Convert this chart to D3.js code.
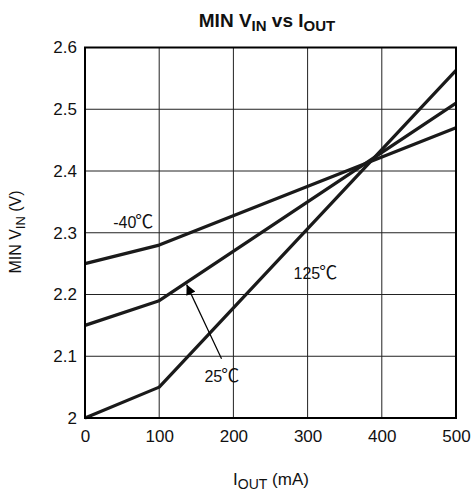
<!DOCTYPE html>
<html>
<head>
<meta charset="utf-8">
<script src="https://cdn.jsdelivr.net/npm/d3@7"></script>
<style>
  body { margin: 0; background: #fff; }
  text { font-family: Arial, "Liberation Sans", sans-serif; fill: #111; }
</style>
</head>
<body>
<script>
// currents (mA) and min input voltage (V) per temperature
var iout = [0, 100, 500];
var vinM40 = [2.25, 2.28, 2.47];
var vin25 = [2.15, 2.19, 2.51];
var vin125 = [2.0, 2.05, 2.563];
var xTicks = [0, 100, 200, 300, 400, 500];
var yTicks = [2, 2.1, 2.2, 2.3, 2.4, 2.5, 2.6];
var yTickLabels = ["2", "2.1", "2.2", "2.3", "2.4", "2.5", "2.6"];

const w = 473;
const h = 493;

const xScale = d3.scaleLinear().domain([0, 500]).range([85, 456]);
const yScale = d3.scaleLinear().domain([2, 2.6]).range([418, 47.5]);

const svg = d3.select("body")
    .append("svg")
    .attr("width", w)
    .attr("height", h);

// grid
svg.append("g")
    .selectAll("line")
    .data(xTicks)
    .enter()
    .append("line")
    .attr("x1", d => xScale(d))
    .attr("x2", d => xScale(d))
    .attr("y1", yScale(2))
    .attr("y2", yScale(2.6))
    .attr("stroke", "#222")
    .attr("stroke-width", 1);

svg.append("g")
    .selectAll("line")
    .data(yTicks)
    .enter()
    .append("line")
    .attr("x1", xScale(0))
    .attr("x2", xScale(500))
    .attr("y1", d => yScale(d))
    .attr("y2", d => yScale(d))
    .attr("stroke", "#222")
    .attr("stroke-width", 1);

// axes (labels only)
const xAxis = d3.axisBottom(xScale).tickValues(xTicks).tickSize(0).tickPadding(12);
const yAxis = d3.axisLeft(yScale).tickValues(yTicks).tickSize(0).tickPadding(8)
    .tickFormat((d, i) => yTickLabels[i]);

svg.append("g")
    .attr("transform", "translate(0," + yScale(2) + ")")
    .call(xAxis)
    .call(g => g.select(".domain").remove())
    .selectAll("text")
    .style("font-size", "17px")
    .style("font-family", "Arial, 'Liberation Sans', sans-serif")
    .attr("fill", "#111");

svg.append("g")
    .attr("transform", "translate(" + xScale(0) + ",0)")
    .call(yAxis)
    .call(g => g.select(".domain").remove())
    .selectAll("text")
    .style("font-size", "17px")
    .style("font-family", "Arial, 'Liberation Sans', sans-serif")
    .attr("fill", "#111");

// data lines
const line = d3.line()
    .x((d, i) => xScale(iout[i]))
    .y(d => yScale(d));

[vinM40, vin25, vin125].forEach(function (s) {
    svg.append("path")
        .datum(s)
        .attr("d", line)
        .attr("fill", "none")
        .attr("stroke", "#1a1a1a")
        .attr("stroke-width", 3.2)
        .attr("stroke-linejoin", "round");
});

// frame
svg.append("rect")
    .attr("x", xScale(0))
    .attr("y", yScale(2.6))
    .attr("width", xScale(500) - xScale(0))
    .attr("height", yScale(2) - yScale(2.6))
    .attr("fill", "none")
    .attr("stroke", "#000")
    .attr("stroke-width", 2);

// annotations, degree sign drawn with a CJK font like the original
function tempLabel(x, y, num) {
    const t = svg.append("text")
        .attr("x", x)
        .attr("y", y)
        .style("font-size", "16px");
    t.append("tspan").text(num);
    t.append("tspan")
        .style("font-family", "'Noto Sans CJK JP', 'Noto Sans CJK SC', sans-serif")
        .style("font-size", "18px")
        .attr("dx", -1)
        .text("℃");
}
tempLabel(xScale(38), yScale(2.308), "-40");
tempLabel(xScale(281), yScale(2.225), "125");
tempLabel(xScale(161), yScale(2.058), "25");

// arrow pointing at the 25℃ curve
svg.append("defs").append("marker")
    .attr("id", "arr")
    .attr("viewBox", "0 0 10 10")
    .attr("refX", 10)
    .attr("refY", 5)
    .attr("markerWidth", 11)
    .attr("markerHeight", 10)
    .attr("markerUnits", "userSpaceOnUse")
    .attr("orient", "auto")
    .append("path")
    .attr("d", "M0,0 L10,5 L0,10 Z")
    .attr("fill", "#000");

svg.append("line")
    .attr("x1", xScale(184))
    .attr("y1", yScale(2.096))
    .attr("x2", xScale(137))
    .attr("y2", yScale(2.216))
    .attr("stroke", "#000")
    .attr("stroke-width", 1.2)
    .attr("marker-end", "url(#arr)");

// title
const title = svg.append("text")
    .attr("x", 267)
    .attr("y", 27)
    .attr("text-anchor", "middle")
    .style("font-size", "19px")
    .style("font-weight", "bold");
title.append("tspan").text("MIN V");
title.append("tspan").attr("dy", 4).style("font-size", "15px").text("IN");
title.append("tspan").attr("dy", -4).text(" vs I");
title.append("tspan").attr("dy", 4).style("font-size", "15px").text("OUT");

// x label
const xl = svg.append("text")
    .attr("x", 271)
    .attr("y", 485)
    .attr("text-anchor", "middle")
    .style("font-size", "17px");
xl.append("tspan").text("I");
xl.append("tspan").attr("dy", 4).style("font-size", "14px").text("OUT");
xl.append("tspan").attr("dy", -4).text(" (mA)");

// y label
const yl = svg.append("text")
    .attr("transform", "translate(21," + 232 + ") rotate(-90)")
    .attr("text-anchor", "middle")
    .style("font-size", "16px");
yl.append("tspan").text("MIN V");
yl.append("tspan").attr("dy", 4).style("font-size", "13px").text("IN");
yl.append("tspan").attr("dy", -4).text(" (V)");
</script>
</body>
</html>
